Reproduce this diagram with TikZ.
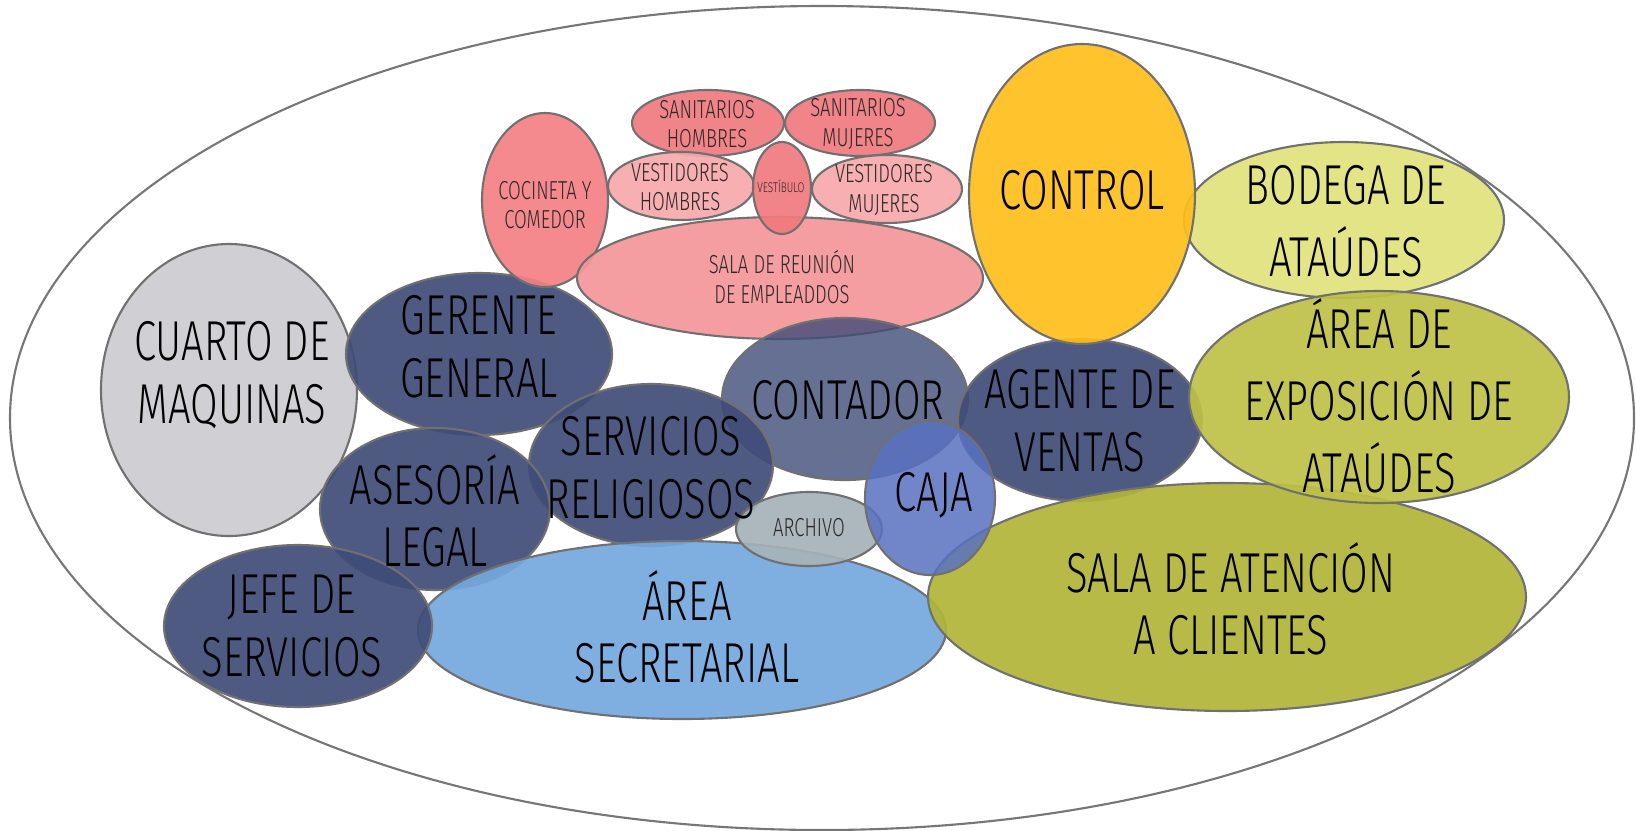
\documentclass[tikz,border=0pt]{standalone}
\usepackage{fontspec}
\setmainfont{Fira Sans}[UprightFont={* Light}, FakeStretch=0.71]
\usepackage{xcolor}
\usepackage{tikz}
\definecolor{wallgray}{RGB}{118, 118, 118}
\definecolor{edgegray}{RGB}{112, 112, 112}
\definecolor{textgray}{RGB}{45, 40, 40}
\definecolor{machinegray}{RGB}{204, 204, 208}
\definecolor{officenavy}{RGB}{64, 76, 120}
\definecolor{secretblue}{RGB}{116, 168, 222}
\definecolor{archivegray}{RGB}{166, 178, 184}
\definecolor{cashblue}{RGB}{88, 112, 192}
\definecolor{salesolive}{RGB}{178, 180, 56}
\definecolor{showolive}{RGB}{190, 192, 70}
\definecolor{storeyellow}{RGB}{224, 226, 124}
\definecolor{controlamber}{RGB}{255, 190, 28}
\definecolor{staffpink}{RGB}{244, 150, 154}
\definecolor{kitchenpink}{RGB}{244, 128, 132}
\definecolor{wcpink}{RGB}{240, 122, 126}
\definecolor{lockerpink}{RGB}{246, 168, 171}

\tikzset{
  room/.style={draw=edgegray, line width=0.6pt, fill opacity=0.92},
  bigname/.style={font=\fontsize{16}{17.8}\selectfont, align=center, text=black},
  tallname/.style={font=\fontsize{16}{20.5}\selectfont, align=center, text=black},
  smallname/.style={font=\fontsize{7.4}{8.3}\selectfont, align=center, text=textgray},
}

\begin{document}
\begin{tikzpicture}[x=0.01cm, y=0.01cm]
  \useasboundingbox (0,0) rectangle (1636,-830);
  % outer site
  \draw[wallgray, line width=0.6pt] (822,-418) ellipse [x radius=812, y radius=412];

  % service side
  \path[room, fill=machinegray] (229,-390) ellipse [x radius=128, y radius=146];
  \path[room, fill=officenavy] (479,-354) ellipse [x radius=133, y radius=81];

  % staff block
  \path[room, fill=kitchenpink] (545,-200) ellipse [x radius=63, y radius=87];
  \path[room, fill=staffpink] (780,-278) ellipse [x radius=203, y radius=61];
  \path[room, fill=wcpink] (708,-123) ellipse [x radius=76, y radius=33];
  \path[room, fill=wcpink] (860,-123) ellipse [x radius=75, y radius=33];
  \path[room, fill=lockerpink] (681,-186) ellipse [x radius=73, y radius=34];
  \path[room, fill=lockerpink] (887,-189) ellipse [x radius=75, y radius=34];
  \path[room, fill=wcpink] (782,-188) ellipse [x radius=29, y radius=46];

  % offices
  \path[room, fill=officenavy, fill opacity=0.8] (845,-399) ellipse [x radius=123, y radius=81];
  \path[room, fill=officenavy] (651,-465) ellipse [x radius=122, y radius=81];
  \path[room, fill=officenavy] (435,-509) ellipse [x radius=115, y radius=81];
  \path[room, fill=secretblue] (682,-630) ellipse [x radius=264, y radius=89];
  \path[room, fill=officenavy] (298,-626) ellipse [x radius=134, y radius=81];
  \path[room, fill=archivegray] (809,-529) ellipse [x radius=73, y radius=37];
  \path[room, fill=officenavy] (1080,-420) ellipse [x radius=122, y radius=81];
  \path[room, fill=salesolive] (1227,-597) ellipse [x radius=299, y radius=114];
  \path[room, fill=cashblue, fill opacity=0.85] (930,-498) ellipse [x radius=65, y radius=77];

  % public side
  \path[room, fill=storeyellow] (1344,-220) ellipse [x radius=160, y radius=78];
  \path[room, fill=showolive] (1379,-397) ellipse [x radius=190, y radius=106];
  \path[room, fill=controlamber] (1082,-194) ellipse [x radius=113, y radius=150];

  % labels
  \node[bigname] (cuarto) at (232,-375) {CUARTO DE\\MAQUINAS};
  \node[bigname] (gerente) at (479,-347) {GERENTE\\GENERAL};
  \node[bigname] (asesoria) at (435,-511) {ASESORÍA\\LEGAL};
  \node[bigname] (jefe) at (292,-626) {JEFE DE\\SERVICIOS};
  \node[bigname] (secretarial) at (687,-627) {ÁREA\\SECRETARIAL};
  \node[bigname] (religiosos) at (651,-468) {SERVICIOS\\RELIGIOSOS};
  \node[bigname] (contador) at (848,-400) {CONTADOR};
  \node[bigname] (caja) at (934,-495) {CAJA};
  \node[bigname] (agente) at (1080,-421) {AGENTE DE\\VENTAS};
  \node[bigname] (atencion) at (1231,-599) {SALA DE ATENCIÓN\\A CLIENTES};
  \node[tallname] (exposicion) at (1379,-396) {ÁREA DE\\EXPOSICIÓN DE\\ATAÚDES};
  \node[tallname] (bodega) at (1346,-221) {BODEGA DE\\ATAÚDES};
  \node[bigname] (control) at (1082,-190) {CONTROL};
  \node[smallname] (archivo) at (809,-528) {ARCHIVO};
  \node[smallname] (reunion) at (782,-277) {SALA DE REUNIÓN\\DE EMPLEADDOS};
  \node[smallname] (cocineta) at (545,-205) {COCINETA Y\\COMEDOR};
  \node[smallname] (sanhombres) at (707,-124) {SANITARIOS\\HOMBRES};
  \node[smallname] (sanmujeres) at (858,-124) {SANITARIOS\\MUJERES};
  \node[smallname] (vesthombres) at (680,-187) {VESTIDORES\\HOMBRES};
  \node[smallname] (vestmujeres) at (884,-190) {VESTIDORES\\MUJERES};
  \node[smallname, font=\fontsize{4}{4.5}\selectfont] (vestibulo) at (781,-186) {VESTÍBULO};
\end{tikzpicture}
\end{document}
